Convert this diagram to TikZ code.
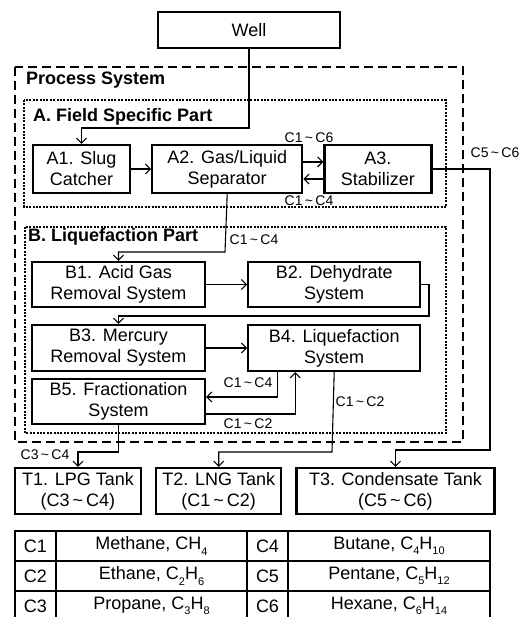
\documentclass[tikz,border=0pt]{standalone}
\usepackage{fontspec}
\setmainfont{Liberation Sans}
\usetikzlibrary{arrows.meta,positioning}

\newcommand{\chemsub}[1]{\raisebox{-0.3em}{\fontsize{11}{11}\selectfont #1}}
\newcommand{\crange}[2]{C#1\,\textasciitilde\,C#2}

\begin{document}
\begin{tikzpicture}[x=1pt,y=-1pt,
    box/.style={draw, line width=2.2pt, align=center, inner sep=0pt,
        font=\fontsize{18}{21}\selectfont},
    flow/.style={line width=1.1pt,
        -{Straight Barb[length=5pt,width=10pt,line width=1.1pt]}},
    flowlabel/.style={inner sep=0pt, font=\fontsize{14}{14}\selectfont},
    heading/.style={anchor=west, inner sep=0pt, font=\fontsize{18}{18}\selectfont\bfseries},
    cell/.style={inner sep=0pt, font=\fontsize{18}{18}\selectfont}]

    \clip (0,0) rectangle (525,617);

    % Containers
    \draw[line width=2pt, dash pattern=on 9pt off 5pt] (15,67) rectangle (463,442);
    \node[heading] (procsys) at (26,80) {Process System};
    \draw[line width=2pt, dash pattern=on 2pt off 1.4pt] (24,100) rectangle (446,207);
    \node[heading] (fieldpart) at (33,117) {A. Field Specific Part};
    \draw[line width=2pt, dash pattern=on 2pt off 1.4pt] (25,227) rectangle (446,433);
    \node[heading] (liqpart) at (28,237) {B. Liquefaction Part};

    % Well
    \node[box, minimum width=182pt, minimum height=36pt] (well) at (249,30) {Well};

    % A. Field specific part
    \node[box, minimum width=97pt, minimum height=48pt] (a1) at (81.5,169) {A1. Slug\\Catcher};
    \node[box, minimum width=150pt, minimum height=48pt, right=20pt of a1] (a2) {A2. Gas/Liquid\\Separator};
    \node[box, minimum width=107pt, minimum height=48pt, right=20pt of a2] (a3) {A3.\\Stabilizer};

    % B. Liquefaction part
    \node[box, minimum width=173pt, minimum height=45pt] (b1) at (118.5,284.5) {B1. Acid Gas\\Removal System};
    \node[box, minimum width=172pt, minimum height=45pt, right=41pt of b1] (b2) {B2. Dehydrate\\System};
    \node[box, minimum width=173pt, minimum height=46pt] (b3) at (118.5,348) {B3. Mercury\\Removal System};
    \node[box, minimum width=172pt, minimum height=46pt, right=41pt of b3] (b4) {B4. Liquefaction\\System};
    \node[box, minimum width=173pt, minimum height=45pt] (b5) at (118.5,401.5) {B5. Fractionation\\System};

    % Tanks
    \node[box, minimum width=126pt, minimum height=46pt] (t1) at (78,491) {T1. LPG Tank\\(\crange{3}{4})};
    \node[box, minimum width=125pt, minimum height=46pt, right=13pt of t1] (t2) {T2. LNG Tank\\(\crange{1}{2})};
    \node[box, minimum width=198pt, minimum height=46pt, right=13pt of t2] (t3) {T3. Condensate Tank\\(\crange{5}{6})};

    % Bend points
    \coordinate (wellbend) at (249,128);
    \coordinate (a2bend) at (225,252);
    \coordinate (b2bend) at (429,316);
    \coordinate (t1bend) at (118.5,452);
    \coordinate (t2bend) at (332,452);
    \coordinate (t3bend) at (490,450);

    % Flows
    \draw[flow] (well.south) -- (wellbend) -| (a1.north);
    \draw[flow] (a1) -- (a2);
    \draw[flow] ([yshift=7pt]a2.east) -- ([yshift=7pt]a3.west);
    \draw[flow] ([yshift=-10pt]a3.west) -- ([yshift=-10pt]a2.east);
    \draw[flow] (a3.east) -| (t3bend) -| (t3.north);
    \draw[flow] (a2.south) -- (a2bend) -| (b1.north);
    \draw[flow] (b1) -- (b2);
    \draw[flow] (b2.east) -| (b2bend) -| (b3.north);
    \draw[flow] (b3) -- (b4);
    \draw[flow] ([xshift=-57pt]b4.south) |- ([yshift=4.5pt]b5.east);
    \draw[flow] ([yshift=-12.5pt]b5.east) -| ([xshift=-39pt]b4.south);
    \draw[flow] (b4.south) -- (t2bend) -| (t2.north);
    \draw[flow] (b5.south) -- (t1bend) -| (t1.north);

    % Flow labels
    \node[flowlabel] (lbl16) at (309,138) {\crange{1}{6}};
    \node[flowlabel] (lbl14a) at (309,201) {\crange{1}{4}};
    \node[flowlabel] (lbl56) at (495,153) {\crange{5}{6}};
    \node[flowlabel] (lbl14b) at (254,240) {\crange{1}{4}};
    \node[flowlabel] (lbl14c) at (248,383) {\crange{1}{4}};
    \node[flowlabel] (lbl12a) at (248,424) {\crange{1}{2}};
    \node[flowlabel] (lbl12b) at (360,402) {\crange{1}{2}};
    \node[flowlabel] (lbl34) at (45,455) {\crange{3}{4}};

    % Component table
    \draw[line width=1.8pt] (15,531) rectangle (490,621);
    \draw[line width=1.8pt] (15,561) -- (490,561);
    \draw[line width=1.8pt] (15,591) -- (490,591);
    \draw[line width=1.8pt] (56,531) -- (56,621);
    \draw[line width=1.8pt] (247,531) -- (247,621);
    \draw[line width=1.8pt] (288,531) -- (288,621);

    \node[cell] (c1) at (35.5,546) {C1};
    \node[cell] (c1name) at (151.5,546) {Methane, CH\chemsub{4}};
    \node[cell] (c2) at (35.5,576) {C2};
    \node[cell] (c2name) at (151.5,576) {Ethane, C\chemsub{2}H\chemsub{6}};
    \node[cell] (c3) at (35.5,606) {C3};
    \node[cell] (c3name) at (151.5,606) {Propane, C\chemsub{3}H\chemsub{8}};
    \node[cell] (c4) at (267.5,546) {C4};
    \node[cell] (c4name) at (389,546) {Butane, C\chemsub{4}H\chemsub{10}};
    \node[cell] (c5) at (267.5,576) {C5};
    \node[cell] (c5name) at (389,576) {Pentane, C\chemsub{5}H\chemsub{12}};
    \node[cell] (c6) at (267.5,606) {C6};
    \node[cell] (c6name) at (389,606) {Hexane, C\chemsub{6}H\chemsub{14}};

\end{tikzpicture}
\end{document}
